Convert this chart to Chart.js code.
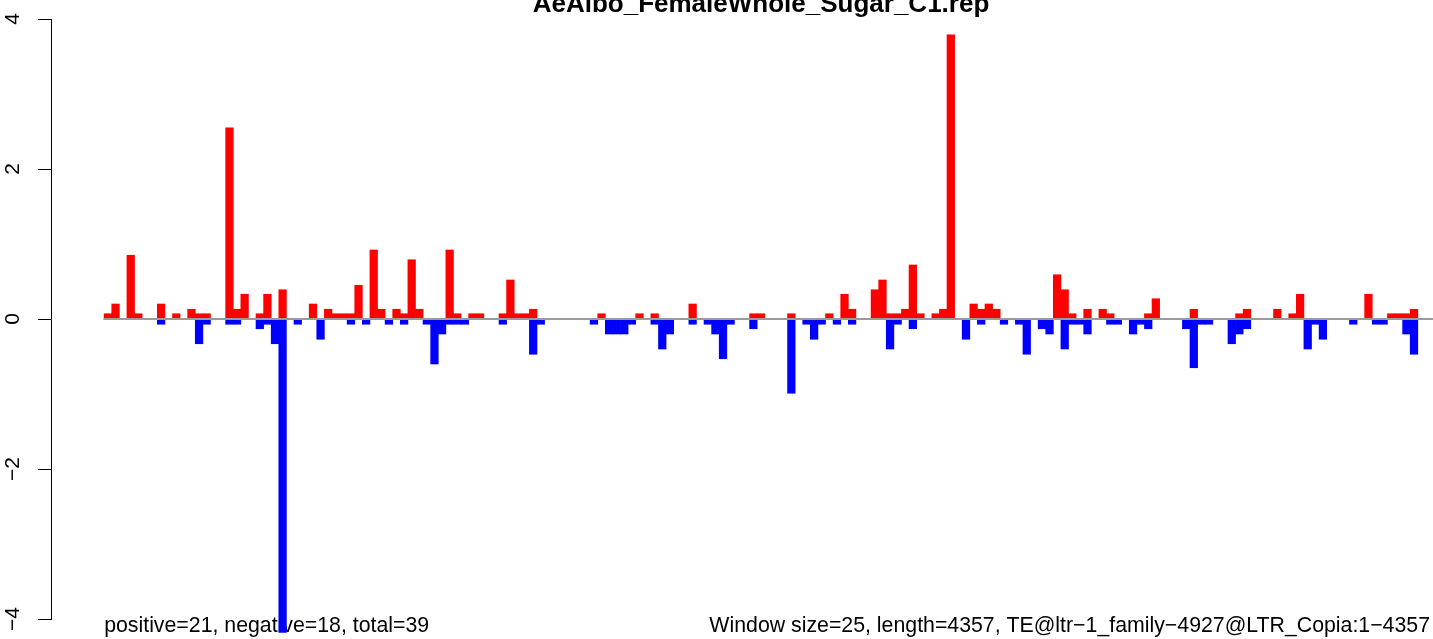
<!DOCTYPE html>
<html lang="en">
<head>
<meta charset="UTF-8">
<title>AeAlbo_FemaleWhole_Sugar_C1.rep</title>
<script src="https://cdn.jsdelivr.net/npm/chart.js"></script>
<style>
    html, body { margin: 0; padding: 0; background: #fff; }
    canvas { display: block; }
</style>
</head>
<body>
<canvas id="chartTE" width="1433" height="639"></canvas>
<script>
// one bar per 25 bp window along the TE (4357 bp -> 175 windows, last two empty)
const windowSize = 25;
const teLength = 4357;
const nWindows = Math.ceil(teLength / windowSize);
const nUsed = 173; // windows that carry a value (title is centred over them)

// positive strand (red)
const posVals = [
    0.07, 0.2, 0, 0.85, 0.07, 0, 0, 0.2, 0, 0.07,
    0, 0.13, 0.07, 0.07, 0, 0, 2.55, 0.13, 0.33, 0,
    0.07, 0.33, 0, 0.39, 0, 0, 0, 0.2, 0, 0.13,
    0.07, 0.07, 0.07, 0.45, 0, 0.92, 0.13, 0, 0.13, 0.07,
    0.79, 0.13, 0, 0, 0, 0.92, 0.07, 0, 0.07, 0.07,
    0, 0, 0.07, 0.52, 0.07, 0.07, 0.13, 0, 0, 0,
    0, 0, 0, 0, 0, 0.07, 0, 0, 0, 0,
    0.07, 0, 0.07, 0, 0, 0, 0, 0.2, 0, 0,
    0, 0, 0, 0, 0, 0.07, 0.07, 0, 0, 0,
    0.07, 0, 0, 0, 0, 0.07, 0, 0.33, 0.13, 0,
    0, 0.39, 0.52, 0.07, 0.07, 0.13, 0.72, 0.07, 0, 0.07,
    0.13, 3.79, 0, 0, 0.2, 0.13, 0.2, 0.13, 0, 0,
    0, 0, 0, 0, 0, 0.59, 0.39, 0.07, 0, 0.13,
    0, 0.13, 0.07, 0, 0, 0, 0, 0.07, 0.27, 0,
    0, 0, 0, 0.13, 0, 0, 0, 0, 0, 0.07,
    0.13, 0, 0, 0, 0.13, 0, 0.07, 0.33, 0, 0,
    0, 0, 0, 0, 0, 0, 0.33, 0, 0, 0.07,
    0.07, 0.07, 0.13, 0, 0
];

// negative strand (blue)
const negVals = [
    0, 0, 0, 0, 0, 0, 0, -0.07, 0, 0,
    0, 0, -0.33, -0.07, 0, 0, -0.07, -0.07, 0, 0,
    -0.13, -0.07, -0.33, -4.18, 0, -0.07, 0, 0, -0.27, 0,
    0, 0, -0.07, 0, -0.07, 0, 0, -0.07, 0, -0.07,
    0, 0, -0.07, -0.6, -0.2, -0.07, -0.07, -0.07, 0, 0,
    0, 0, -0.07, 0, 0, 0, -0.47, -0.07, 0, 0,
    0, 0, 0, 0, -0.07, 0, -0.2, -0.2, -0.2, -0.07,
    0, 0, -0.07, -0.4, -0.2, 0, 0, -0.07, 0, -0.07,
    -0.2, -0.53, -0.07, 0, 0, -0.13, 0, 0, 0, 0,
    -0.99, 0, -0.07, -0.27, -0.07, 0, -0.07, 0, -0.07, 0,
    0, 0, 0, -0.4, -0.07, 0, -0.13, 0, 0, 0,
    0, 0, 0, -0.27, 0, -0.07, 0, 0, -0.07, 0,
    -0.07, -0.47, 0, -0.13, -0.2, 0, -0.4, -0.07, -0.07, -0.2,
    0, 0, -0.07, -0.07, 0, -0.2, -0.07, -0.13, 0, 0,
    0, 0, -0.13, -0.65, -0.07, -0.07, 0, 0, -0.33, -0.2,
    -0.13, 0, 0, 0, 0, 0, 0, 0, -0.4, -0.07,
    -0.27, 0, 0, 0, -0.07, 0, 0, -0.07, -0.07, 0,
    0, -0.2, -0.47, 0, 0
];

const yTickVals = [-4, -2, 0, 2, 4];

const chartTitle = 'AeAlbo_FemaleWhole_Sugar_C1.rep';
const leftNote = 'positive=21, negative=18, total=39';
const rightNote = 'Window size=25, length=4357, TE@ltr\u22121_family\u22124927@LTR_Copia:1\u22124357';

const fontFam = '"Liberation Sans", Arial, Helvetica, sans-serif';

// bar i covers the window [i, i+1] on the x scale
const toPoints = vals => vals.map((v, i) => ({ x: i + 0.5, y: v }));

// title + the two notes under the plot, like R's title()/mtext()
const rTexts = {
    id: 'rTexts',
    beforeDatasetsDraw(chart) {
        const ctx = chart.ctx;
        const xs = chart.scales.x;
        ctx.save();
        ctx.fillStyle = '#000';
        ctx.textBaseline = 'alphabetic';
        ctx.font = '21.3px ' + fontFam;
        ctx.textAlign = 'left';
        ctx.fillText(leftNote, xs.getPixelForValue(0), 631.5);
        ctx.textAlign = 'right';
        ctx.fillText(rightNote, chart.chartArea.right - 3, 631.5);
        ctx.font = 'bold 26px ' + fontFam;
        ctx.textAlign = 'center';
        ctx.fillText(chartTitle, xs.getPixelForValue(nUsed / 2), 11.5);
        ctx.restore();
    }
};

const ctxTE = document.getElementById('chartTE').getContext('2d');
const chartTE = new Chart(ctxTE, {
    type: 'bar',
    data: {
        datasets: [
            {
                type: 'line',
                label: 'zero',
                data: [{ x: -0.1, y: 0 }, { x: nWindows, y: 0 }],
                borderColor: '#9a9a9a',
                borderWidth: 2,
                pointRadius: 0,
                order: 0
            },
            {
                label: 'positive',
                data: toPoints(posVals),
                backgroundColor: '#ff0000',
                borderWidth: 0,
                grouped: false,
                categoryPercentage: 1,
                barPercentage: 1,
                clip: false,
                order: 1
            },
            {
                label: 'negative',
                data: toPoints(negVals),
                backgroundColor: '#0000ff',
                borderWidth: 0,
                grouped: false,
                categoryPercentage: 1,
                barPercentage: 1,
                clip: false,
                order: 1
            }
        ]
    },
    options: {
        responsive: false,
        devicePixelRatio: 1,
        animation: false,
        layout: { padding: { top: 19, bottom: 20, left: 0, right: 0 } },
        plugins: {
            legend: { display: false },
            tooltip: { enabled: false },
            title: { display: false }
        },
        scales: {
            x: {
                type: 'linear',
                display: false,
                offset: false,
                min: -7,
                max: nWindows
            },
            y: {
                min: yTickVals[0],
                max: yTickVals[yTickVals.length - 1],
                afterBuildTicks: s => { s.ticks = yTickVals.map(v => ({ value: v })); },
                afterFit: s => {
                    s.width = 51;
                    // keep the plot from 4 (y=19) to -4 (y=619) as in the R figure
                    s.paddingTop = 0;
                    s.paddingBottom = 0;
                },
                border: { display: true, color: '#000', width: 1 },
                grid: { drawOnChartArea: false, drawTicks: true, tickLength: 13, color: '#000', lineWidth: 1 },
                ticks: {
                    minRotation: 90,
                    maxRotation: 90,
                    crossAlign: 'center',
                    padding: 13,
                    color: '#000',
                    font: { family: fontFam, size: 21 },
                    callback: v => (v < 0 ? '\u2212' + Math.abs(v) : String(v))
                }
            }
        }
    },
    plugins: [rTexts]
});
</script>
</body>
</html>
